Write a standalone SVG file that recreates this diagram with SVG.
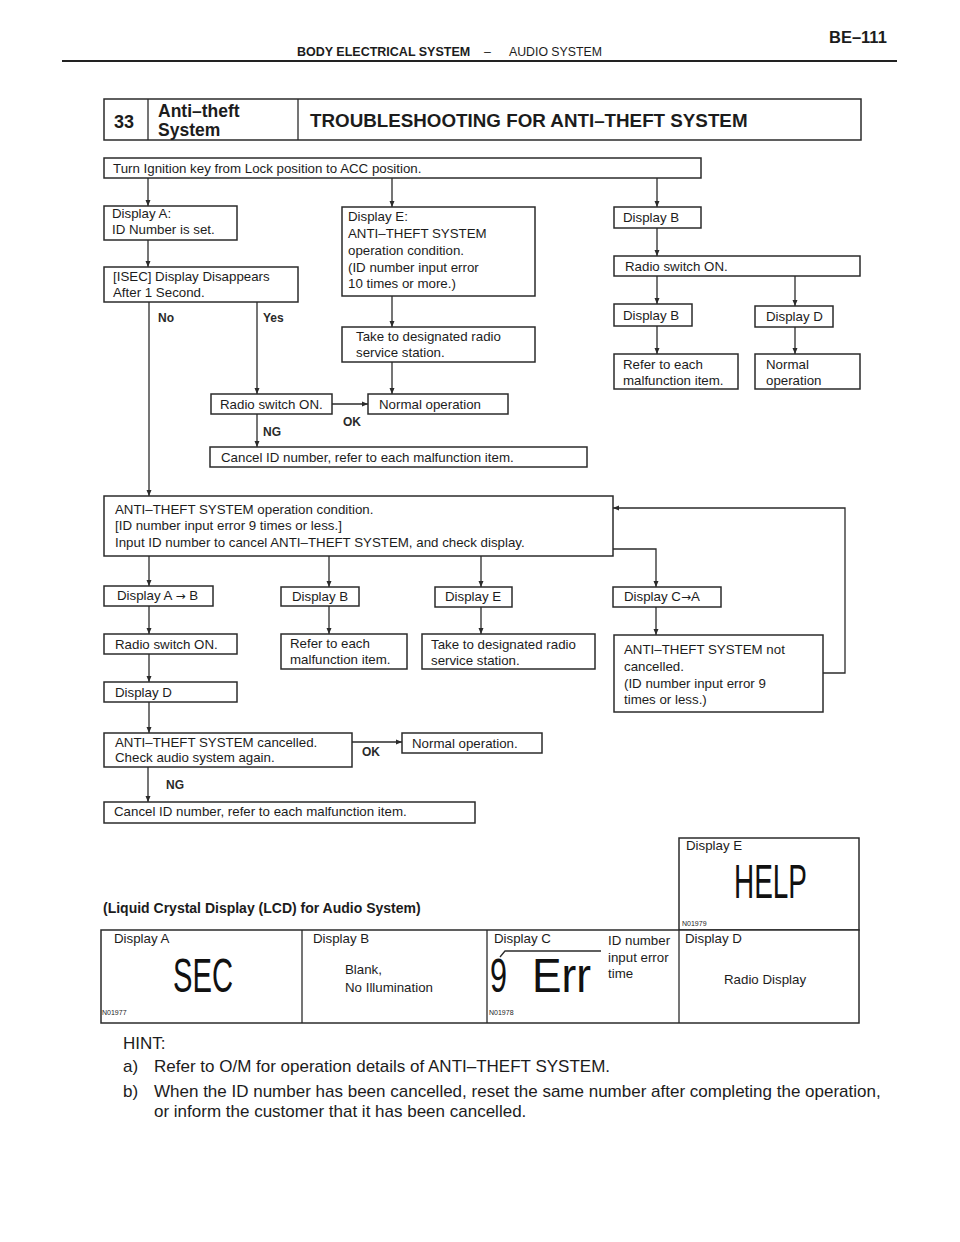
<svg xmlns="http://www.w3.org/2000/svg" width="960" height="1242" viewBox="0 0 960 1242">
<style>
text{font-family:"Liberation Sans",Arial,sans-serif;fill:#1c1c1c}
.t{font-size:13.3px}
.b{font-weight:bold}
.lbl{font-size:12px;font-weight:bold;fill:#2a2a2a}
.box{fill:#fff;stroke:#2b2b2b;stroke-width:1.5}
.ln{fill:none;stroke:#2b2b2b;stroke-width:1.3}
.ar{marker-end:url(#ah)}
.lcd{font-size:48px;fill:#111}
.tiny{font-size:7px}
.hint{font-size:17px}
.arw{font-family:"DejaVu Sans",sans-serif;font-size:12px}
</style>
<defs>
<marker id="ah" markerWidth="6" markerHeight="6" refX="6" refY="3" orient="auto" markerUnits="userSpaceOnUse">
<path d="M0,0.5 L6,3 L0,5.5 z" fill="#2b2b2b"/>
</marker>
</defs>
<rect width="960" height="1242" fill="#fff"/>

<g id="header">
<text x="297" y="56" class="b" font-size="12.5">BODY ELECTRICAL SYSTEM</text>
<text x="484" y="56" font-size="12.3">–</text>
<text x="509" y="56" font-size="12.3">AUDIO SYSTEM</text>
<text x="829" y="43" class="b" font-size="16.5">BE–111</text>
<line x1="62" y1="61" x2="897" y2="61" stroke="#222" stroke-width="2"/>
</g>

<g id="title">
<rect x="104" y="99" width="757" height="41" class="box"/>
<line x1="148" y1="99" x2="148" y2="140" class="ln" stroke-width="1.5"/>
<line x1="298" y1="99" x2="298" y2="140" class="ln" stroke-width="1.5"/>
<text x="114" y="128" class="b" font-size="18">33</text>
<text x="158" y="117" class="b" font-size="17.5">Anti–theft</text>
<text x="158" y="136" class="b" font-size="17.5">System</text>
<text x="310" y="127" class="b" font-size="18.8">TROUBLESHOOTING FOR ANTI–THEFT SYSTEM</text>
</g>

<g id="connectors">
<path class="ln ar" d="M148,178 V206"/>
<path class="ln ar" d="M392,178 V207"/>
<path class="ln ar" d="M657,178 V207"/>
<path class="ln ar" d="M148,239 V267"/>
<path class="ln ar" d="M149,302 V496"/>
<path class="ln ar" d="M257,302 V394"/>
<path class="ln ar" d="M392,296 V327"/>
<path class="ln ar" d="M392,362 V394"/>
<path class="ln ar" d="M332,404 H368"/>
<path class="ln ar" d="M257,414 V447"/>
<path class="ln ar" d="M657,228 V256"/>
<path class="ln ar" d="M657,276 V304"/>
<path class="ln ar" d="M795,276 V306"/>
<path class="ln ar" d="M657,326 V354"/>
<path class="ln ar" d="M795,327 V354"/>
<path class="ln ar" d="M149,556 V586"/>
<path class="ln ar" d="M329,556 V587"/>
<path class="ln ar" d="M481,556 V587"/>
<path class="ln ar" d="M613,549 H656 V587"/>
<path class="ln ar" d="M823,673 H845 V508 H613"/>
<path class="ln ar" d="M149,606 V634"/>
<path class="ln ar" d="M329,606 V634"/>
<path class="ln ar" d="M481,607 V634"/>
<path class="ln ar" d="M656,607 V635"/>
<path class="ln ar" d="M149,654 V682"/>
<path class="ln ar" d="M149,702 V733"/>
<path class="ln ar" d="M352,742 H402"/>
<path class="ln ar" d="M148,767 V802"/>
<text x="158" y="322" class="lbl">No</text>
<text x="263" y="322" class="lbl">Yes</text>
<text x="343" y="426" class="lbl">OK</text>
<text x="263" y="436" class="lbl">NG</text>
<text x="362" y="756" class="lbl">OK</text>
<text x="166" y="789" class="lbl">NG</text>
</g>

<g id="n-start"><rect x="104" y="158" width="597" height="20" class="box"/><text x="113" y="173" class="t">Turn Ignition key from Lock position to ACC position.</text></g>
<g id="n-dispA"><rect x="104" y="206" width="133" height="34" class="box"/><text x="112" y="218" class="t">Display A:</text><text x="112" y="234" class="t">ID Number is set.</text></g>
<g id="n-isec"><rect x="104" y="267" width="194" height="35" class="box"/><text x="113" y="281" class="t">[ISEC] Display Disappears</text><text x="113" y="297" class="t">After 1 Second.</text></g>
<g id="n-dispE"><rect x="342" y="207" width="193" height="89" class="box"/>
<text x="348" y="221" class="t">Display E:</text><text x="348" y="238" class="t">ANTI–THEFT SYSTEM</text><text x="348" y="255" class="t">operation condition.</text><text x="348" y="272" class="t">(ID number input error</text><text x="348" y="288" class="t">10 times or more.)</text></g>
<g id="n-take1"><rect x="342" y="327" width="193" height="35" class="box"/><text x="356" y="341" class="t">Take to designated radio</text><text x="356" y="357" class="t">service station.</text></g>
<g id="n-radio1"><rect x="211" y="394" width="121" height="20" class="box"/><text x="220" y="409" class="t">Radio switch ON.</text></g>
<g id="n-normal1"><rect x="368" y="394" width="140" height="20" class="box"/><text x="379" y="409" class="t">Normal operation</text></g>
<g id="n-cancel1"><rect x="210" y="447" width="377" height="20" class="box"/><text x="221" y="462" class="t">Cancel ID number, refer to each malfunction item.</text></g>

<g id="n-dispB1"><rect x="614" y="207" width="87" height="21" class="box"/><text x="623" y="222" class="t">Display B</text></g>
<g id="n-radio2"><rect x="614" y="256" width="246" height="20" class="box"/><text x="625" y="271" class="t">Radio switch ON.</text></g>
<g id="n-dispB2"><rect x="614" y="304" width="78" height="22" class="box"/><text x="623" y="320" class="t">Display B</text></g>
<g id="n-dispD1"><rect x="755" y="306" width="78" height="21" class="box"/><text x="766" y="321" class="t">Display D</text></g>
<g id="n-refer1"><rect x="614" y="354" width="124" height="35" class="box"/><text x="623" y="369" class="t">Refer to each</text><text x="623" y="385" class="t">malfunction item.</text></g>
<g id="n-normal2"><rect x="755" y="354" width="105" height="35" class="box"/><text x="766" y="369" class="t">Normal</text><text x="766" y="385" class="t">operation</text></g>

<g id="n-anti"><rect x="104" y="496" width="509" height="60" class="box"/>
<text x="115" y="514" class="t">ANTI–THEFT SYSTEM operation condition.</text>
<text x="115" y="530" class="t">[ID number input error 9 times or less.]</text>
<text x="115" y="547" class="t">Input ID number to cancel ANTI–THEFT SYSTEM, and check display.</text></g>
<g id="n-dispAB"><rect x="104" y="586" width="109" height="20" class="box"/><text x="117" y="600" class="t">Display A <tspan class="arw">→</tspan> B</text></g>
<g id="n-dispB3"><rect x="281" y="587" width="78" height="19" class="box"/><text x="292" y="601" class="t">Display B</text></g>
<g id="n-dispE2"><rect x="435" y="587" width="77" height="20" class="box"/><text x="445" y="601" class="t">Display E</text></g>
<g id="n-dispCA"><rect x="613" y="587" width="108" height="20" class="box"/><text x="624" y="601" class="t">Display C<tspan class="arw">→</tspan>A</text></g>
<g id="n-radio3"><rect x="104" y="634" width="133" height="20" class="box"/><text x="115" y="649" class="t">Radio switch ON.</text></g>
<g id="n-refer2"><rect x="281" y="634" width="126" height="35" class="box"/><text x="290" y="648" class="t">Refer to each</text><text x="290" y="664" class="t">malfunction item.</text></g>
<g id="n-take2"><rect x="422" y="634" width="173" height="35" class="box"/><text x="431" y="649" class="t">Take to designated radio</text><text x="431" y="665" class="t">service station.</text></g>
<g id="n-notcancel"><rect x="614" y="635" width="209" height="77" class="box"/>
<text x="624" y="654" class="t">ANTI–THEFT SYSTEM not</text><text x="624" y="671" class="t">cancelled.</text><text x="624" y="688" class="t">(ID number input error 9</text><text x="624" y="704" class="t">times or less.)</text></g>
<g id="n-dispD2"><rect x="104" y="682" width="133" height="20" class="box"/><text x="115" y="697" class="t">Display D</text></g>
<g id="n-cancelled"><rect x="104" y="733" width="248" height="34" class="box"/><text x="115" y="747" class="t">ANTI–THEFT SYSTEM cancelled.</text><text x="115" y="762" class="t">Check audio system again.</text></g>
<g id="n-normal3"><rect x="402" y="733" width="140" height="20" class="box"/><text x="412" y="748" class="t">Normal operation.</text></g>
<g id="n-cancel2"><rect x="104" y="802" width="371" height="21" class="box"/><text x="114" y="816" class="t">Cancel ID number, refer to each malfunction item.</text></g>

<g id="lcd">
<text x="103" y="913" class="b" font-size="14">(Liquid Crystal Display (LCD) for Audio System)</text>
<rect x="679" y="838" width="180" height="92" class="box"/>
<rect x="101" y="930" width="758" height="93" class="box"/>
<line x1="302" y1="930" x2="302" y2="1023" class="ln" stroke-width="1.5"/>
<line x1="487" y1="930" x2="487" y2="1023" class="ln" stroke-width="1.5"/>
<line x1="679" y1="930" x2="679" y2="1023" class="ln" stroke-width="1.5"/>
<text x="686" y="850" class="t">Display E</text>
<text x="734" y="898" class="lcd" font-size="36" textLength="73" lengthAdjust="spacingAndGlyphs">HELP</text>
<text x="682" y="926" class="tiny">N01979</text>
<text x="114" y="943" class="t">Display A</text>
<text x="173" y="992" class="lcd" textLength="60" lengthAdjust="spacingAndGlyphs">SEC</text>
<text x="102" y="1015" class="tiny">N01977</text>
<text x="313" y="943" class="t">Display B</text>
<text x="345" y="974" class="t">Blank,</text>
<text x="345" y="992" class="t">No Illumination</text>
<text x="494" y="943" class="t">Display C</text>
<polyline points="500,957 505,951 601,951" class="ln" stroke-width="1"/>
<text x="490" y="992" class="lcd" font-size="48" textLength="17" lengthAdjust="spacingAndGlyphs">9</text>
<text x="532" y="992" class="lcd" font-size="46" textLength="59" lengthAdjust="spacingAndGlyphs">Err</text>
<text x="489" y="1015" class="tiny">N01978</text>
<text x="608" y="945" class="t">ID number</text>
<text x="608" y="962" class="t">input error</text>
<text x="608" y="978" class="t">time</text>
<text x="685" y="943" class="t">Display D</text>
<text x="724" y="984" class="t">Radio Display</text>
</g>

<g id="hint">
<text x="123" y="1049" class="hint">HINT:</text>
<text x="123" y="1072" class="hint">a)</text>
<text x="154" y="1072" class="hint">Refer to O/M for operation details of ANTI–THEFT SYSTEM.</text>
<text x="123" y="1097" class="hint">b)</text>
<text x="154" y="1097" class="hint">When the ID number has been cancelled, reset the same number after completing the operation,</text>
<text x="154" y="1117" class="hint">or inform the customer that it has been cancelled.</text>
</g>
</svg>
